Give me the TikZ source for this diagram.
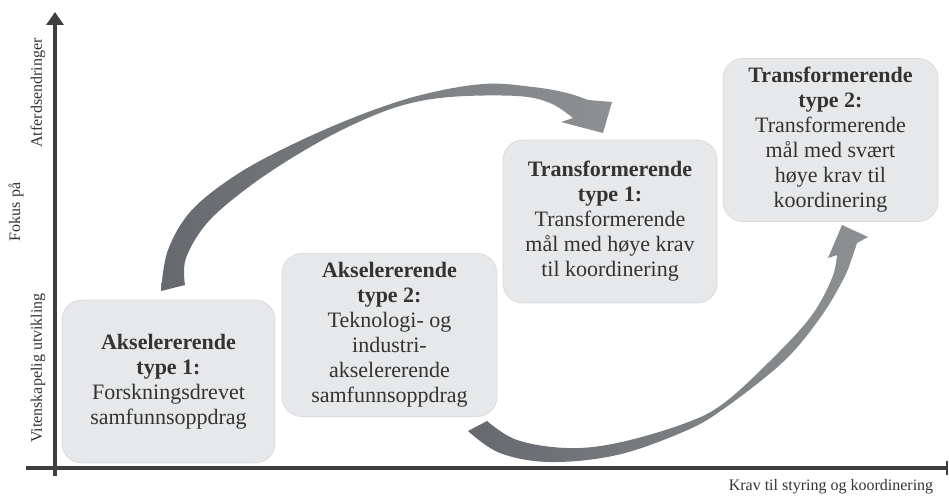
\documentclass[tikz,border=0pt]{standalone}
\usepackage{fontspec}
\setmainfont{Liberation Serif}
\usetikzlibrary{arrows.meta}
\definecolor{boxfill}{HTML}{E6E8EA}
\definecolor{boxline}{HTML}{D9DBDE}
\definecolor{txt}{HTML}{333333}
\definecolor{axis}{HTML}{3F3F3F}
\definecolor{arrdark}{HTML}{66696D}
\definecolor{arrlight}{HTML}{8E9194}
\tikzset{
  card/.style={draw=boxline, line width=0.8pt, fill=boxfill, rounded corners=20pt,
    minimum width=#1, minimum height=163pt, inner sep=0pt, align=center,
    text=txt, font=\fontsize{22}{25}\selectfont},
  card/.default=214pt,
  axlabel/.style={text=txt, font=\fontsize{16}{18}\selectfont, inner sep=0pt},
  axisline/.style={draw=axis, line width=4pt},
  bigarrow/.style={left color=arrdark, right color=arrlight, draw=none}
}
\begin{document}
\begin{tikzpicture}[x=1pt, y=-1pt]
\useasboundingbox (0,0) rectangle (949,495);

% axes
\coordinate (yb) at (55,476);
\coordinate (yt) at (55,12);
\coordinate (xl) at (26,468);
\coordinate (xr) at (947,468);
\draw[axisline, -{Triangle[width=17pt,length=13pt]}] (yb) -- (yt);
\draw[axisline] (xl) -- (xr);
\draw[draw=axis, line width=2.5pt] ([yshift=-7pt]xr) -- ([yshift=7pt]xr);

% axis labels
\node[axlabel, rotate=90] (atf) at (38,93) {Atferdsendringer};
\node[axlabel, rotate=90] (fok) at (16,212) {Fokus på};
\node[axlabel, rotate=90] (vit) at (38,368) {Vitenskapelig utvikling};
\node[axlabel] (krav) at (831,487) {Krav til styring og koordinering};

% arrows
\shade[bigarrow]
  plot[smooth, tension=0.6] coordinates {(161,291) (168,250) (191,211) (233,177) (283,149) (350,119) (417,96) (483,84) (533,87) (567,93) (588,100)}
  -- (612,102) -- (603,133) -- (561,122) --
  plot[smooth, tension=0.6] coordinates {(573,118) (550,103) (517,96) (450,97) (400,106) (350,126) (300,153) (250,186) (208,222) (186,258) (185,285)}
  -- cycle;

\shade[bigarrow]
  plot[smooth, tension=0.6] coordinates {(468,431) (500,453) (550,462) (617,455) (683,432) (722,410) (783,362) (820,318) (843,280) (852,258) (857,243)}
  -- (868,237) -- (842,225) -- (828,258) --
  plot[smooth, tension=0.6] coordinates {(837,255) (832,278) (812,315) (776,355) (724,403) (683,424) (617,443) (567,448) (517,440) (487,421)}
  -- cycle;

% boxes
\node[card=213pt] (a1) at (168.5,381.5)
  {\textbf{Akselererende}\\\textbf{type 1:}\\Forskningsdrevet\\samfunnsoppdrag};
\node[card=215pt] (a2) at (389.5,335)
  {\textbf{Akselererende}\\\textbf{type 2:}\\Teknologi- og\\industri-\\akselererende\\samfunnsoppdrag};
\node[card=214pt] (t1) at (610,221.5)
  {\textbf{Transformerende}\\\textbf{type 1:}\\Transformerende\\mål med høye krav\\til koordinering};
\node[card=215pt] (t2) at (830.5,140)
  {\textbf{Transformerende}\\\textbf{type 2:}\\Transformerende\\mål med svært\\høye krav til\\koordinering};
\end{tikzpicture}
\end{document}
